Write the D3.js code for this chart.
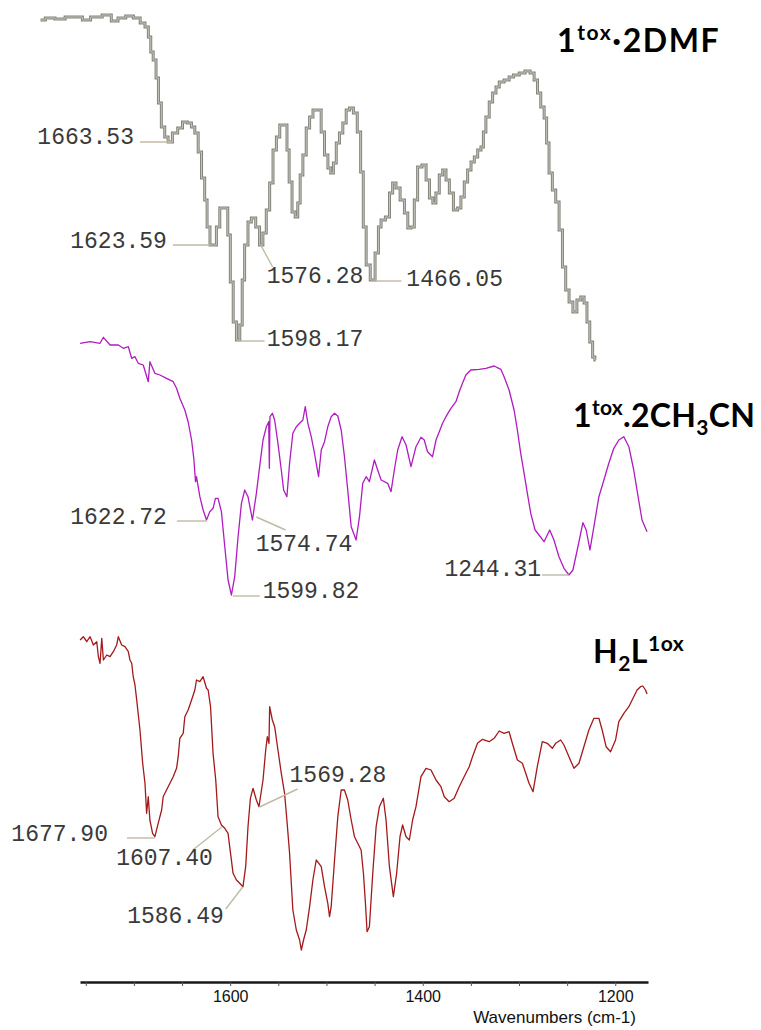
<!DOCTYPE html>
<html>
<head>
<meta charset="utf-8">
<script src="https://cdn.jsdelivr.net/npm/d3@7"></script>
<style>
    body { margin: 0; background: #fff; }
    svg { display: block; }
    .peak { font-family: "Liberation Mono", "DejaVu Sans Mono", monospace; font-size: 23px; fill: #3a3a3a; }
    .title { font-family: Lato, "Open Sans", sans-serif; font-weight: 700; font-size: 32px; fill: #000; }
    .axis text { font-family: "Liberation Sans", Arial, sans-serif; font-size: 16px; fill: #111; }
    .axis-label { font-family: "Liberation Sans", Arial, sans-serif; font-size: 17px; fill: #111; }
</style>
</head>
<body>
<div id="chart"></div>
<script>
// spectra: [wavenumber (cm-1), relative transmittance]
const dmfSpectrum = [
    [1797,350],[1787,352],[1777,351],[1766,353],[1756,353],[1751,350],[1739,353],[1727,355],[1720,349],[1713,352],
    [1704,354],[1697,352],[1690,347],[1687,343],[1683,333],[1682,318],[1678,310],[1676,292],[1673,267],[1670,243],
    [1666,233],[1663,228],[1657,237],[1652,242],[1647,248],[1642,247],[1638.5,243],[1635,237],[1631.5,218],[1628,192],
    [1625,170],[1623,143],[1619,125],[1616,125],[1612.6,143],[1609,162],[1604,162],[1601,135],[1598.7,88],[1595,48],
    [1592,30],[1588,45],[1587,90],[1583,125],[1580,148],[1576,152],[1571,143],[1568,125],[1564,137],[1561,160],
    [1557,187],[1554,220],[1550,233],[1547,245],[1542,245],[1540,220],[1537.5,188],[1534,158],[1531,153],[1528.6,167],
    [1526,195],[1523,215],[1519,242],[1516,253],[1512,260],[1507,260],[1504,238],[1500,215],[1497,202],[1494,197],
    [1491.6,207],[1488,227],[1485,237],[1481,247],[1478,260],[1474,262],[1470,257],[1466,238],[1463,198],[1460.5,143],
    [1457,105],[1452,90],[1447,117],[1445,143],[1441.6,150],[1436,153],[1433,177],[1429.5,187],[1426,182],[1421,170],
    [1417,157],[1414,142],[1410.5,143],[1407,170],[1403.6,203],[1398,205],[1395,190],[1391,172],[1388,167],[1384.6,177],
    [1381,195],[1377.6,200],[1374,190],[1370.7,177],[1365.5,160],[1362,162],[1358.7,173],[1355,188],[1351.7,200],[1348,208],
    [1344.8,213],[1341,220],[1338,223],[1336,238],[1332.8,253],[1329,268],[1325.8,277],[1322,283],[1319,288],[1312,290],
    [1308.5,293],[1303,295],[1296.5,297],[1291,299],[1286,297],[1282.6,290],[1279,277],[1275.8,263],[1272,252],[1270.6,227],
    [1267,197],[1263.7,180],[1260,168],[1256.7,140],[1253,103],[1250,80],[1246,68],[1242,58],[1237.7,70],[1234,73],
    [1230.8,67],[1228,48],[1225,28],[1222,13],[1220.4,10]
];

const acnSpectrum = [
    [1755.9,266.7],[1745.5,268.3],[1735.2,266.7],[1731.7,272.7],[1724.8,265],[1716.2,265],[1711,261.7],[1705.8,263.3],
    [1702.3,251.7],[1698.9,253.3],[1695.5,246.7],[1690.3,245],[1685.1,228.3],[1683.4,248.3],[1678.2,236.7],[1673,235],
    [1666.1,231.7],[1659.2,228.3],[1655.7,221.7],[1652.3,211.7],[1647.1,200],[1643.7,188.3],[1640.1,170],[1637.8,151.7],
    [1636,128.3],[1635,133.3],[1631.5,113.3],[1628.1,100],[1624.6,90],[1621.2,98.3],[1617.8,101.7],[1615.3,111.7],
    [1612.6,111.7],[1609.1,98.3],[1605.6,63.3],[1602.2,30],[1598.7,15],[1595.3,33.3],[1591.8,73.3],[1588.3,106.7],
    [1584.9,120],[1581.5,113.3],[1576.9,90],[1572.8,116.7],[1569.4,143.3],[1565.9,170],[1562.4,183.3],[1560,188.3],
    [1559.3,141.7],[1558.7,193.3],[1556.2,196.7],[1553.8,190],[1550.4,166.7],[1546.9,140],[1544.5,120],[1541.1,113.3],
    [1538.3,146.7],[1534.9,176.7],[1531.3,183.3],[1527.9,186.7],[1524.5,190],[1522,203.3],[1519.3,186.7],[1515.8,173.3],
    [1512.4,156.7],[1508.2,133.3],[1505.4,160],[1502,168.3],[1498.6,183.3],[1495.1,193.3],[1491.6,196.7],[1488.2,194],
    [1484.7,180],[1481.3,153.3],[1477.9,120],[1474.3,83.3],[1469.2,70],[1465.7,93.3],[1462.3,126.7],[1458.8,133.3],
    [1455.4,128.3],[1450.2,150],[1446.8,140],[1443.2,130],[1436.4,126.7],[1432.9,118.3],[1429.5,140],[1426,160],
    [1421.5,173.3],[1417.3,165],[1412.2,143.3],[1407,163.3],[1401.8,172.7],[1398.4,170],[1395,158.3],[1389.8,153.3],
    [1386.2,170],[1382.8,178.3],[1379.4,186.7],[1375.9,193.3],[1370.7,201.7],[1365.5,208.3],[1362.1,218.3],[1358.7,226.7],
    [1355.2,235],[1350,240],[1341.4,240.7],[1334.4,241.7],[1325.8,244],[1318.9,240.7],[1315.5,233.3],[1310.3,220],
    [1305.1,200],[1301.7,180],[1298.2,156.7],[1294.7,136.7],[1291.3,116.7],[1287.8,96.7],[1283.3,80],[1279.2,75],
    [1274,68.3],[1268.1,80],[1263.7,70],[1258.5,53.3],[1253.3,41.7],[1248.1,35],[1244,40],[1239.5,60],
    [1233.6,87.3],[1230.2,80],[1226.3,60],[1222.2,83.3],[1217,113.3],[1211.8,130],[1206.7,146.7],[1201.5,161.7],
    [1196.3,170],[1191.1,173.3],[1185.9,163.3],[1180.8,140],[1176.3,113.3],[1172.2,90],[1167,78.3]
];

const ligandSpectrum = [
    [1755.9,320],[1752.5,323.3],[1749,318.3],[1745.5,323.3],[1742.1,315],[1738.6,318.3],[1736.9,303.3],[1735.2,296.7],
    [1733.4,321.7],[1731.7,300],[1728.2,305],[1724.8,303.3],[1721.4,308.3],[1717.9,315],[1716.2,323.3],[1712.7,315],
    [1709.3,313.3],[1705.8,308.3],[1704.1,300],[1702.3,296.7],[1700.7,283.3],[1698.9,275],[1697.1,260],[1693.7,230],
    [1690.9,196.7],[1688.5,176.7],[1686.8,146.7],[1685.1,163.3],[1683.4,140],[1680.6,126.7],[1678.2,123.3],[1674.8,136.7],
    [1671.2,150],[1669.6,163.3],[1666.1,170],[1662.6,176.7],[1659.2,183.3],[1655.7,191.7],[1654,203.3],[1652.3,221.7],
    [1648.8,226.7],[1647.1,243.3],[1643.7,250],[1640.1,260],[1636.7,270],[1635,280],[1631.5,278.3],[1628.1,283.3],
    [1624.6,271.7],[1622.9,270],[1620.4,253.3],[1617.8,206.7],[1615,180],[1612.6,143.3],[1609.1,135],[1605.6,131.7],
    [1602.2,126.7],[1600.5,113.3],[1597,86.7],[1593.5,80],[1590.1,76.7],[1586.7,73.3],[1583.9,93.3],[1581.5,133.3],
    [1579,161.7],[1576.3,171.7],[1572.8,160],[1570.1,153.3],[1565.9,180],[1563.1,210],[1561.4,223.3],[1559.7,216.7],
    [1559,253.3],[1556.2,240],[1553.8,233.3],[1550.4,210],[1546.9,186.7],[1543.5,166.7],[1541.1,140],[1538.3,106.7],
    [1534.9,50],[1531.3,30],[1527.9,20],[1526.1,10],[1523.8,20],[1521,30],[1517.5,53.3],[1514.1,80],
    [1510.6,100],[1507.9,96.7],[1505.4,93.3],[1502,73.3],[1498.6,56.7],[1496.8,43.3],[1495.1,53.3],[1491.6,100],
    [1488.2,143.3],[1484.7,170],[1481.3,170],[1477.9,160],[1474.3,140],[1470.9,123.3],[1467.5,116.7],[1464,110],
    [1461.6,86.7],[1459.5,56.7],[1457.8,28.3],[1455.4,33.3],[1451.9,86.7],[1448.4,133.3],[1445,153.3],[1440.9,161.7],
    [1438.1,140],[1434.6,93.3],[1430.5,63.3],[1427.1,86.7],[1423.6,123.3],[1420.9,135],[1417.3,123.3],[1413.9,120],
    [1410.5,140],[1407,153.3],[1401.8,183.3],[1396.6,191.7],[1391.4,190],[1386.2,180],[1381.1,173.3],[1377.6,163.3],
    [1372.5,158.3],[1367.3,161.7],[1362.1,173.3],[1355.2,186.7],[1351.7,193.3],[1348.3,203.3],[1343.1,216.7],[1337.9,220.7],
    [1331,218.3],[1325.8,221.7],[1320.6,229],[1315.5,226.7],[1310.3,228.3],[1306.9,216.7],[1301.7,200],[1296.5,196.7],
    [1293,186.7],[1289.6,176.7],[1285.4,168.3],[1281,193.3],[1275.8,218.3],[1270.6,216.7],[1265.4,211.7],[1261.9,216.7],
    [1256.7,220],[1253.3,215],[1248.1,203.3],[1242.9,191.7],[1237.7,196.7],[1232.6,213.3],[1227.4,230],[1222.2,241.7],
    [1217,241.7],[1213.6,230],[1209.5,213.3],[1204.9,208.3],[1199.7,220],[1196.3,238.3],[1191.1,246.7],[1185.9,253.3],
    [1180.8,263.3],[1177.3,270],[1173.8,273.3],[1171.4,274],[1168.6,270],[1167,266]
];

// peak labels: point on the trace and end of the leader line, both in data units
const dmfPeaks = [
    { label: '1663.53', at: [1660.6, 228], end: [1693.7, 228] },
    { label: '1623.59', at: [1621.2, 125], end: [1659.5, 125] },
    { label: '1576.28', at: [1568.3, 125], end: [1555.9, 103] },
    { label: '1598.17', at: [1592.2, 29], end: [1564.2, 29] },
    { label: '1466.05', at: [1450.2, 89], end: [1422.2, 89] }
];
const acnPeaks = [
    { label: '1622.72', at: [1624.3, 89], end: [1655.4, 89] },
    { label: '1574.74', at: [1572.8, 93], end: [1542.4, 80] },
    { label: '1599.82', at: [1597.3, 14], end: [1569.4, 14] },
    { label: '1244.31', at: [1248.1, 35], end: [1276.1, 35] }
];
const ligandPeaks = [
    { label: '1677.90', at: [1678.2, 122], end: [1707.2, 122] },
    { label: '1607.40', at: [1608.7, 133], end: [1638.8, 110] },
    { label: '1586.49', at: [1587.0, 73], end: [1604.6, 51] },
    { label: '1569.28', at: [1569.4, 153], end: [1530.0, 171] }
];

const tickValues = [1750, 1700, 1650, 1600, 1550, 1500, 1450, 1400, 1350, 1300, 1250, 1200];
const tickLabels = [1600, 1400, 1200];
const axisTitle = 'Wavenumbers (cm-1)';

// label text placement relative to the leader end (pixels)
const labelPlacement = {
    '1663.53': { dx: -6, dy: -4, anchor: 'end' },
    '1623.59': { dx: -6, dy: -3, anchor: 'end' },
    '1576.28': { dx: -6, dy: 10, anchor: 'start' },
    '1598.17': { dx: 2, dy: -1, anchor: 'start' },
    '1466.05': { dx: 5, dy: -1, anchor: 'start' },
    '1622.72': { dx: -10, dy: -3, anchor: 'end' },
    '1574.74': { dx: -30, dy: 15, anchor: 'start' },
    '1599.82': { dx: 3, dy: -4, anchor: 'start' },
    '1244.31': { dx: -1, dy: -5, anchor: 'end' },
    '1677.90': { dx: -19, dy: -3, anchor: 'end' },
    '1607.40': { dx: 20, dy: 9, anchor: 'end' },
    '1586.49': { dx: -2, dy: 8, anchor: 'end' },
    '1569.28': { dx: -8, dy: -13, anchor: 'start' }
};

const width = 761;
const height = 1030;

const svg = d3.select('#chart')
    .append('svg')
    .attr('width', width)
    .attr('height', height);

const x = d3.scaleLinear()
    .domain([1756, 1166])
    .range([80, 648]);

const panels = [
    { data: dmfSpectrum, peaks: dmfPeaks, top: 10, bottom: 370, max: 360, color: '#85857d', stepped: true,
      title: { x: 557, y: 52, spacing: 1.6, parts: [['1', 0], ['tox', 1], ['·2DMF', 0]] } },
    { data: acnSpectrum, peaks: acnPeaks, top: 330, bottom: 610, max: 280, color: '#b01cc0', stepped: false,
      title: { x: 573, y: 427, spacing: 0.3, parts: [['1', 0], ['tox', 1], ['.2CH', 0], ['3', -1], ['CN', 0]] } },
    { data: ligandSpectrum, peaks: ligandPeaks, top: 620, bottom: 960, max: 340, color: '#a3191c', stepped: false,
      title: { x: 593, y: 663, spacing: 0.5, parts: [['H', 0], ['2', -1], ['L', 0], ['1ox', 1]] } }
];

panels.forEach(p => {
    const y = d3.scaleLinear().domain([0, p.max]).range([p.bottom, p.top]);
    const g = svg.append('g');

    const line = d3.line()
        .x(d => x(d[0]))
        .y(d => y(d[1]))
        .curve(p.stepped ? d3.curveStep : d3.curveLinear);

    if (p.stepped) {
        // old low-res trace: thick grey outline with a lighter core
        g.append('path').attr('d', line(p.data))
            .attr('fill', 'none').attr('stroke', p.color).attr('stroke-width', 3);
        g.append('path').attr('d', line(p.data))
            .attr('fill', 'none').attr('stroke', '#c4c4bc').attr('stroke-width', 1);
    } else {
        g.append('path').attr('d', line(p.data))
            .attr('fill', 'none').attr('stroke', p.color).attr('stroke-width', 1.3)
            .attr('stroke-linejoin', 'round');
    }

    // leader lines + labels
    g.selectAll('.leader')
        .data(p.peaks)
        .enter().append('line')
        .attr('class', 'leader')
        .attr('x1', d => x(d.at[0])).attr('y1', d => y(d.at[1]))
        .attr('x2', d => x(d.end[0])).attr('y2', d => y(d.end[1]))
        .attr('stroke', '#bfbba6').attr('stroke-width', 1.4);

    g.selectAll('.peak')
        .data(p.peaks)
        .enter().append('text')
        .attr('class', 'peak')
        .attr('x', d => x(d.end[0]) + labelPlacement[d.label].dx)
        .attr('y', d => y(d.end[1]) + labelPlacement[d.label].dy)
        .attr('dominant-baseline', 'middle')
        .attr('text-anchor', d => labelPlacement[d.label].anchor)
        .text(d => d.label);

    // title with super/subscripts
    const t = g.append('text').attr('class', 'title')
        .attr('x', p.title.x).attr('y', p.title.y)
        .attr('letter-spacing', p.title.spacing);
    let shift = 0;
    p.title.parts.forEach(([s, pos]) => {
        const target = pos === 1 ? -12 : pos === -1 ? 8 : 0;
        t.append('tspan')
            .attr('dy', target - shift)
            .attr('font-size', pos === 0 ? null : '21px')
            .text(s);
        shift = target;
    });
});

// x axis
const axisG = svg.append('g')
    .attr('class', 'axis')
    .attr('transform', 'translate(0,982)');

axisG.call(d3.axisBottom(x)
    .tickValues(tickValues)
    .tickSize(4)
    .tickSizeOuter(0)
    .tickPadding(5)
    .tickFormat(d => tickLabels.includes(d) ? d : ''));

axisG.select('.domain').attr('stroke', '#1a1a1a').attr('stroke-width', 2.5);
axisG.selectAll('.tick line').attr('stroke', '#555');

svg.append('text')
    .attr('class', 'axis-label')
    .attr('x', 636)
    .attr('y', 1023)
    .attr('text-anchor', 'end')
    .text(axisTitle);
</script>
</body>
</html>
